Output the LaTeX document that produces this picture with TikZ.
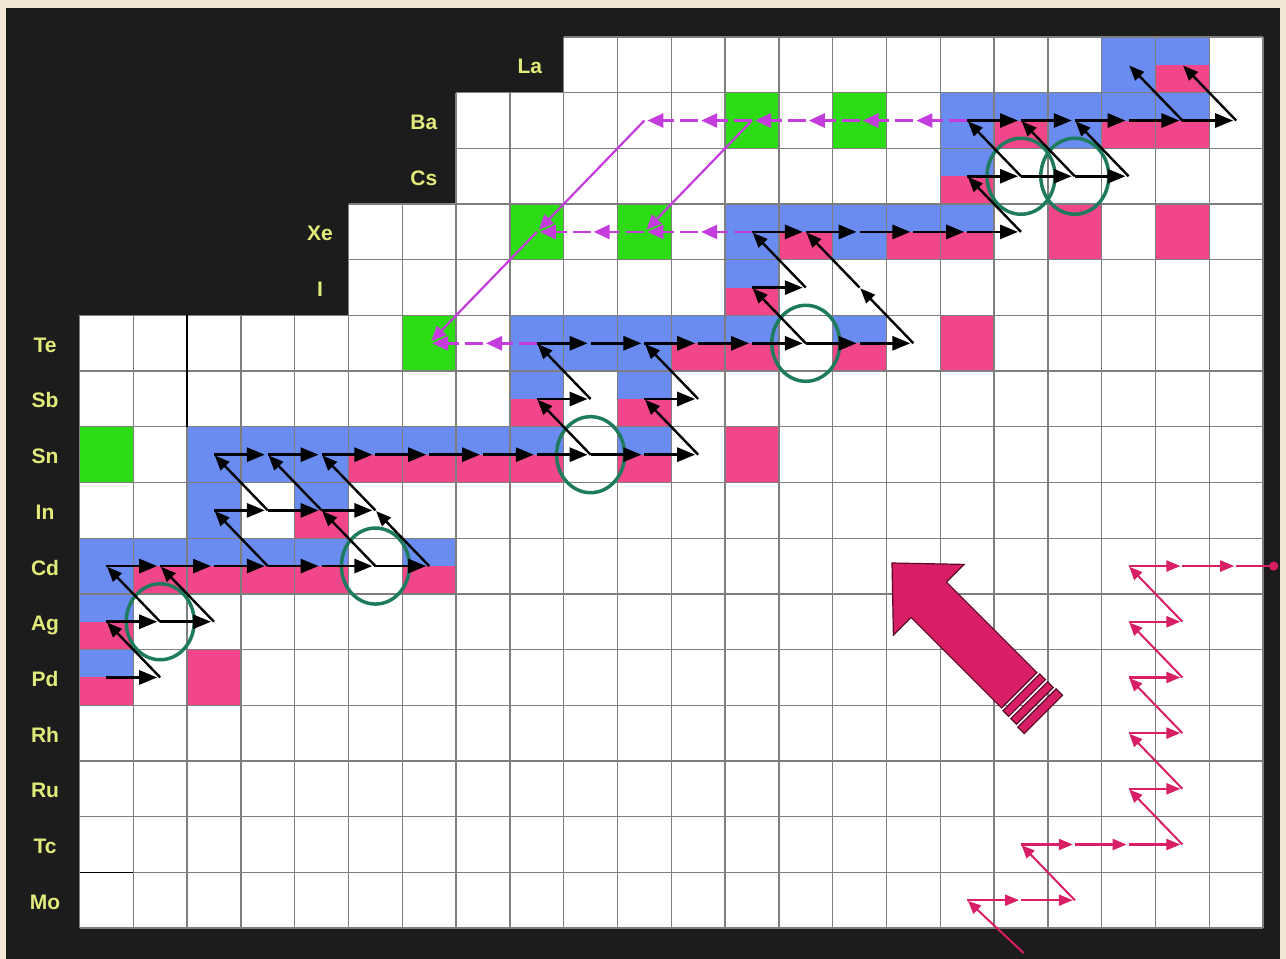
\documentclass[tikz,border=0pt]{standalone}
\usepackage{fontspec}
\newfontfamily\labfont{Liberation Sans}
\usetikzlibrary{arrows.meta}
\definecolor{bgcream}{HTML}{F3E8D6}
\definecolor{bgblack}{HTML}{1C1C1C}
\definecolor{cblue}{HTML}{6A8CF0}
\definecolor{cpink}{HTML}{F2468A}
\definecolor{cgreen}{HTML}{2EDC16}
\definecolor{gridgray}{HTML}{7E7E7E}
\definecolor{labyellow}{HTML}{E2EA7A}
\definecolor{circg}{HTML}{1E7B5E}
\definecolor{magc}{HTML}{C43CDC}
\definecolor{crim}{HTML}{D81E64}
\definecolor{crimdark}{HTML}{5A0A26}
\begin{document}
\begin{tikzpicture}[x=1pt,y=-1pt,
  gridline/.style={draw=gridgray,line width=1.3pt},
  darkline/.style={draw=black,line width=1.5pt},
  lab/.style={text=labyellow,font=\labfont\bfseries\fontsize{21}{21}\selectfont,inner sep=0pt,anchor=base,yshift=-9pt},
  spath/.style={draw=black,line width=2.8pt,-{Triangle[length=18pt,width=14pt]},shorten >=3pt},
  sdiag/.style={draw=black,line width=2.4pt,-{Triangle[length=15pt,width=12pt]},shorten >=1pt},
  mpath/.style={draw=magc,line width=2.6pt,dash pattern=on 18pt off 6pt,-{Triangle[length=16pt,width=14pt]},shorten >=3pt},
  mdiag/.style={draw=magc,line width=2.2pt,-{Triangle[length=15pt,width=13pt]},shorten >=3pt},
  cpath/.style={draw=crim,line width=2.2pt,-{Triangle[length=14pt,width=11pt]},shorten >=2pt},
  cdiag/.style={draw=crim,line width=2pt,-{Triangle[length=13pt,width=11pt]},shorten >=1pt},
  branch/.style={draw=circg,line width=3.5pt},
  bigarrow/.style={fill=crim,draw=crimdark,line width=1.2pt,line join=miter}
]
\useasboundingbox (0,0) rectangle (1286,959);
\fill[bgcream] (0,0) rectangle (1286,959);
\fill[bgblack] (6,8) rectangle (1280,959);

\begin{scope}[xshift=79.5pt,yshift=-37pt,x=53.8pt,y=-55.69pt]
  % cell centres
  \foreach \r in {0,...,15}{\foreach \c in {0,...,21}{\coordinate (p\c-\r) at (\c+0.5,\r+0.5);}}
  \coordinate (crimStart) at (17.55,16.45);
  \coordinate (crimEnd) at (22.28,9.5);
  % white rows
  \fill[white] (9,0) rectangle (22,1);
  \fill[white] (7,1) rectangle (22,3);
  \fill[white] (5,3) rectangle (22,5);
  \fill[white] (0,5) rectangle (22,16);
  % full blue
  \foreach \c/\r in {19/0,16/1,18/1,12/3,14/3,8/5,9/5,10/5,2/7,3/7,4/7,2/8,0/9}
    {\fill[cblue] (\c,\r) rectangle ++(1,1);}
  % split blue / pink
  \foreach \c/\r in {20/0,17/1,19/1,20/1,16/2,13/3,15/3,16/3,12/4,11/5,12/5,14/5,8/6,10/6,5/7,6/7,7/7,8/7,10/7,4/8,1/9,2/9,3/9,4/9,6/9,0/10,0/11}
    {\fill[cblue] (\c,\r) rectangle ++(1,0.5);
     \fill[cpink] (\c,\r+0.5) rectangle ++(1,0.5);}
  % full pink
  \foreach \c/\r in {18/3,20/3,16/5,12/7,2/11}
    {\fill[cpink] (\c,\r) rectangle ++(1,1);}
  % green
  \foreach \c/\r in {12/1,14/1,8/3,10/3,6/5,0/7}
    {\fill[cgreen] (\c,\r) rectangle ++(1,1);}
  % grid
  \foreach \s/\ra/\rb in {9/0/1,7/1/3,5/3/5,0/5/16}{
    \foreach \c in {\s,...,22}{\draw[gridline] (\c,\ra) -- (\c,\rb);}
    \foreach \r in {\ra,...,\rb}{\draw[gridline] (\s,\r) -- (22,\r);}
  }
  \draw[darkline] (2,5) -- (2,7);
  \draw[darkline] (0,15) -- (1,15);
  % labels
  \node[lab] (labLa) at (8.37,0.5) {La};
  \node[lab] (labBa) at (6.40,1.5) {Ba};
  \node[lab] (labCs) at (6.40,2.5) {Cs};
  \node[lab] (labXe) at (4.47,3.5) {Xe};
  \node[lab] (labI)  at (4.47,4.5) {I};
  \foreach \r/\t in {5/Te,6/Sb,7/Sn,8/In,9/Cd,10/Ag,11/Pd,12/Rh,13/Ru,14/Tc,15/Mo}
    {\node[lab] (lab\t) at (-0.64,\r+0.5) {\t};}
  % branching circles
  \foreach \c/\r in {1/10,5/9,9/7,13/5,17/2,18/2}
    {\draw[branch] (p\c-\r) ellipse [x radius=34pt,y radius=38pt];}
  % magenta dashed paths
  \foreach \c in {16,...,11}{\pgfmathtruncatemacro{\n}{\c-1}\draw[mpath] (p\c-1) -- (p\n-1);}
  \foreach \c in {12,...,9}{\pgfmathtruncatemacro{\n}{\c-1}\draw[mpath] (p\c-3) -- (p\n-3);}
  \foreach \c in {8,7}{\pgfmathtruncatemacro{\n}{\c-1}\draw[mpath] (p\c-5) -- (p\n-5);}
  \draw[mdiag] (p10-1) -- (p8-3);
  \draw[mdiag] (p8-3) -- (p6-5);
  \draw[mdiag] (p12-1) -- (p10-3);
  % black s-process path: neutron captures
  \foreach \r/\a/\b in {11/0/1,10/0/2,9/0/6,8/2/5,7/2/11,6/8/9,6/10/11,5/8/15,4/12/13,3/12/17,2/16/19,1/16/21}{
    \pgfmathtruncatemacro{\bm}{\b-1}
    \foreach \c in {\a,...,\bm}{\pgfmathtruncatemacro{\n}{\c+1}\draw[spath] (p\c-\r) -- (p\n-\r);}
  }
  % beta decays
  \foreach \c/\r in {1/11,1/10,2/10,3/9,5/9,6/9,3/8,4/8,5/8,9/7,11/7,9/6,11/6,13/5,15/5,13/4,14/4,17/3,17/2,18/2,19/2,20/1,21/1}{
    \pgfmathtruncatemacro{\n}{\c-1}\pgfmathtruncatemacro{\m}{\r-1}
    \draw[sdiag] (p\c-\r) -- (p\n-\m);
  }
  % crimson path
  \draw[cdiag] (crimStart) -- (p16-15);
  \foreach \r/\a/\b in {15/16/18,14/17/20,13/19/20,12/19/20,11/19/20,10/19/20,9/19/21}{
    \pgfmathtruncatemacro{\bm}{\b-1}
    \foreach \c in {\a,...,\bm}{\pgfmathtruncatemacro{\n}{\c+1}\draw[cpath] (p\c-\r) -- (p\n-\r);}
  }
  \foreach \c/\r in {18/15,20/14,20/13,20/12,20/11,20/10}{
    \pgfmathtruncatemacro{\n}{\c-1}\pgfmathtruncatemacro{\m}{\r-1}
    \draw[cdiag] (p\c-\r) -- (p\n-\m);
  }
  \draw[draw=crim,line width=2.2pt,-{Circle[length=9pt]}] (p21-9) -- (crimEnd);
\end{scope}

% big arrow
\begin{scope}[shift={(892,563)},x={(0.7071pt,-0.7071pt)},y={(0.7071pt,0.7071pt)}]
  \draw[bigarrow] (0,0) -- (52,50) -- (52,25) -- (180,25) -- (180,-25) -- (52,-25) -- (52,-50) -- cycle;
  \draw[bigarrow] (183,26) -- (191,26) -- (191,-26) -- (183,-26) -- cycle;
  \draw[bigarrow] (194,26) -- (202,26) -- (202,-26) -- (194,-26) -- cycle;
  \draw[bigarrow] (205,27) -- (214,27) -- (214,-27) -- (205,-27) -- cycle;
\end{scope}
\end{tikzpicture}
\end{document}
